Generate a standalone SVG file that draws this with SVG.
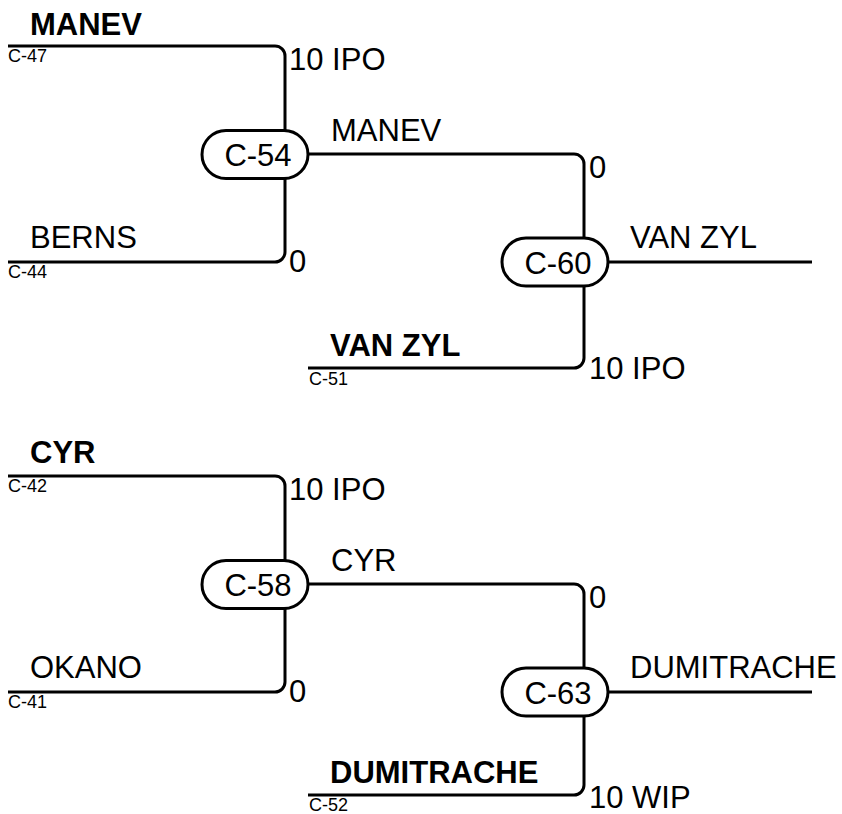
<svg xmlns="http://www.w3.org/2000/svg" width="842" height="814" viewBox="0 0 842 814">
<style>
text{font-family:"Liberation Sans",Arial,sans-serif;fill:#000}
.t{font-size:31px}
.b{font-size:31px;font-weight:bold}
.s{font-size:18px}
.c{font-size:31px;text-anchor:middle}
.ln{fill:none;stroke:#000;stroke-width:3}
.pill{fill:#fff;stroke:#000;stroke-width:3}
</style>
<rect width="842" height="814" fill="#fff"/>
<g id="connectors">
<path class="ln" d="M8,46 H275 A10,10 0 0 1 285,56 V252 A10,10 0 0 1 275,262 H8"/>
<path class="ln" d="M308,154 H574 A10,10 0 0 1 584,164 V358 A10,10 0 0 1 574,368 H308"/>
<path class="ln" d="M608,262 H812"/>
<path class="ln" d="M8,476 H275 A10,10 0 0 1 285,486 V682 A10,10 0 0 1 275,692 H8"/>
<path class="ln" d="M308,584 H574 A10,10 0 0 1 584,594 V785 A10,10 0 0 1 574,795 H308"/>
<path class="ln" d="M608,692 H812"/>
</g>
<g id="labels">
<text class="b" x="30" y="35">MANEV</text>
<text class="s" x="8" y="62">C-47</text>
<text class="t" x="289" y="70">10 IPO</text>
<text class="t" x="30" y="248">BERNS</text>
<text class="s" x="8" y="278">C-44</text>
<text class="t" x="289" y="272">0</text>
<text class="t" x="331" y="141">MANEV</text>
<text class="t" x="589" y="178">0</text>
<text class="b" x="330" y="356">VAN ZYL</text>
<text class="s" x="309" y="385">C-51</text>
<text class="t" x="589" y="379">10 IPO</text>
<text class="t" x="630" y="248">VAN ZYL</text>

<text class="b" x="30" y="463">CYR</text>
<text class="s" x="8" y="492">C-42</text>
<text class="t" x="289" y="500">10 IPO</text>
<text class="t" x="30" y="678">OKANO</text>
<text class="s" x="8" y="708">C-41</text>
<text class="t" x="289" y="702">0</text>
<text class="t" x="331" y="571">CYR</text>
<text class="t" x="589" y="608">0</text>
<text class="b" x="330" y="783">DUMITRACHE</text>
<text class="s" x="309" y="811">C-52</text>
<text class="t" x="589" y="808">10 WIP</text>
<text class="t" x="630" y="678">DUMITRACHE</text>
</g>
<g id="C-54"><rect class="pill" x="202" y="130.5" width="106" height="48" rx="24"/><text class="c" x="258" y="166">C-54</text></g>
<g id="C-60"><rect class="pill" x="502" y="238" width="106" height="48" rx="24"/><text class="c" x="558" y="273.5">C-60</text></g>
<g id="C-58"><rect class="pill" x="202" y="560.5" width="106" height="48" rx="24"/><text class="c" x="258" y="596">C-58</text></g>
<g id="C-63"><rect class="pill" x="502" y="668" width="106" height="48" rx="24"/><text class="c" x="558" y="703.5">C-63</text></g>
</svg>
